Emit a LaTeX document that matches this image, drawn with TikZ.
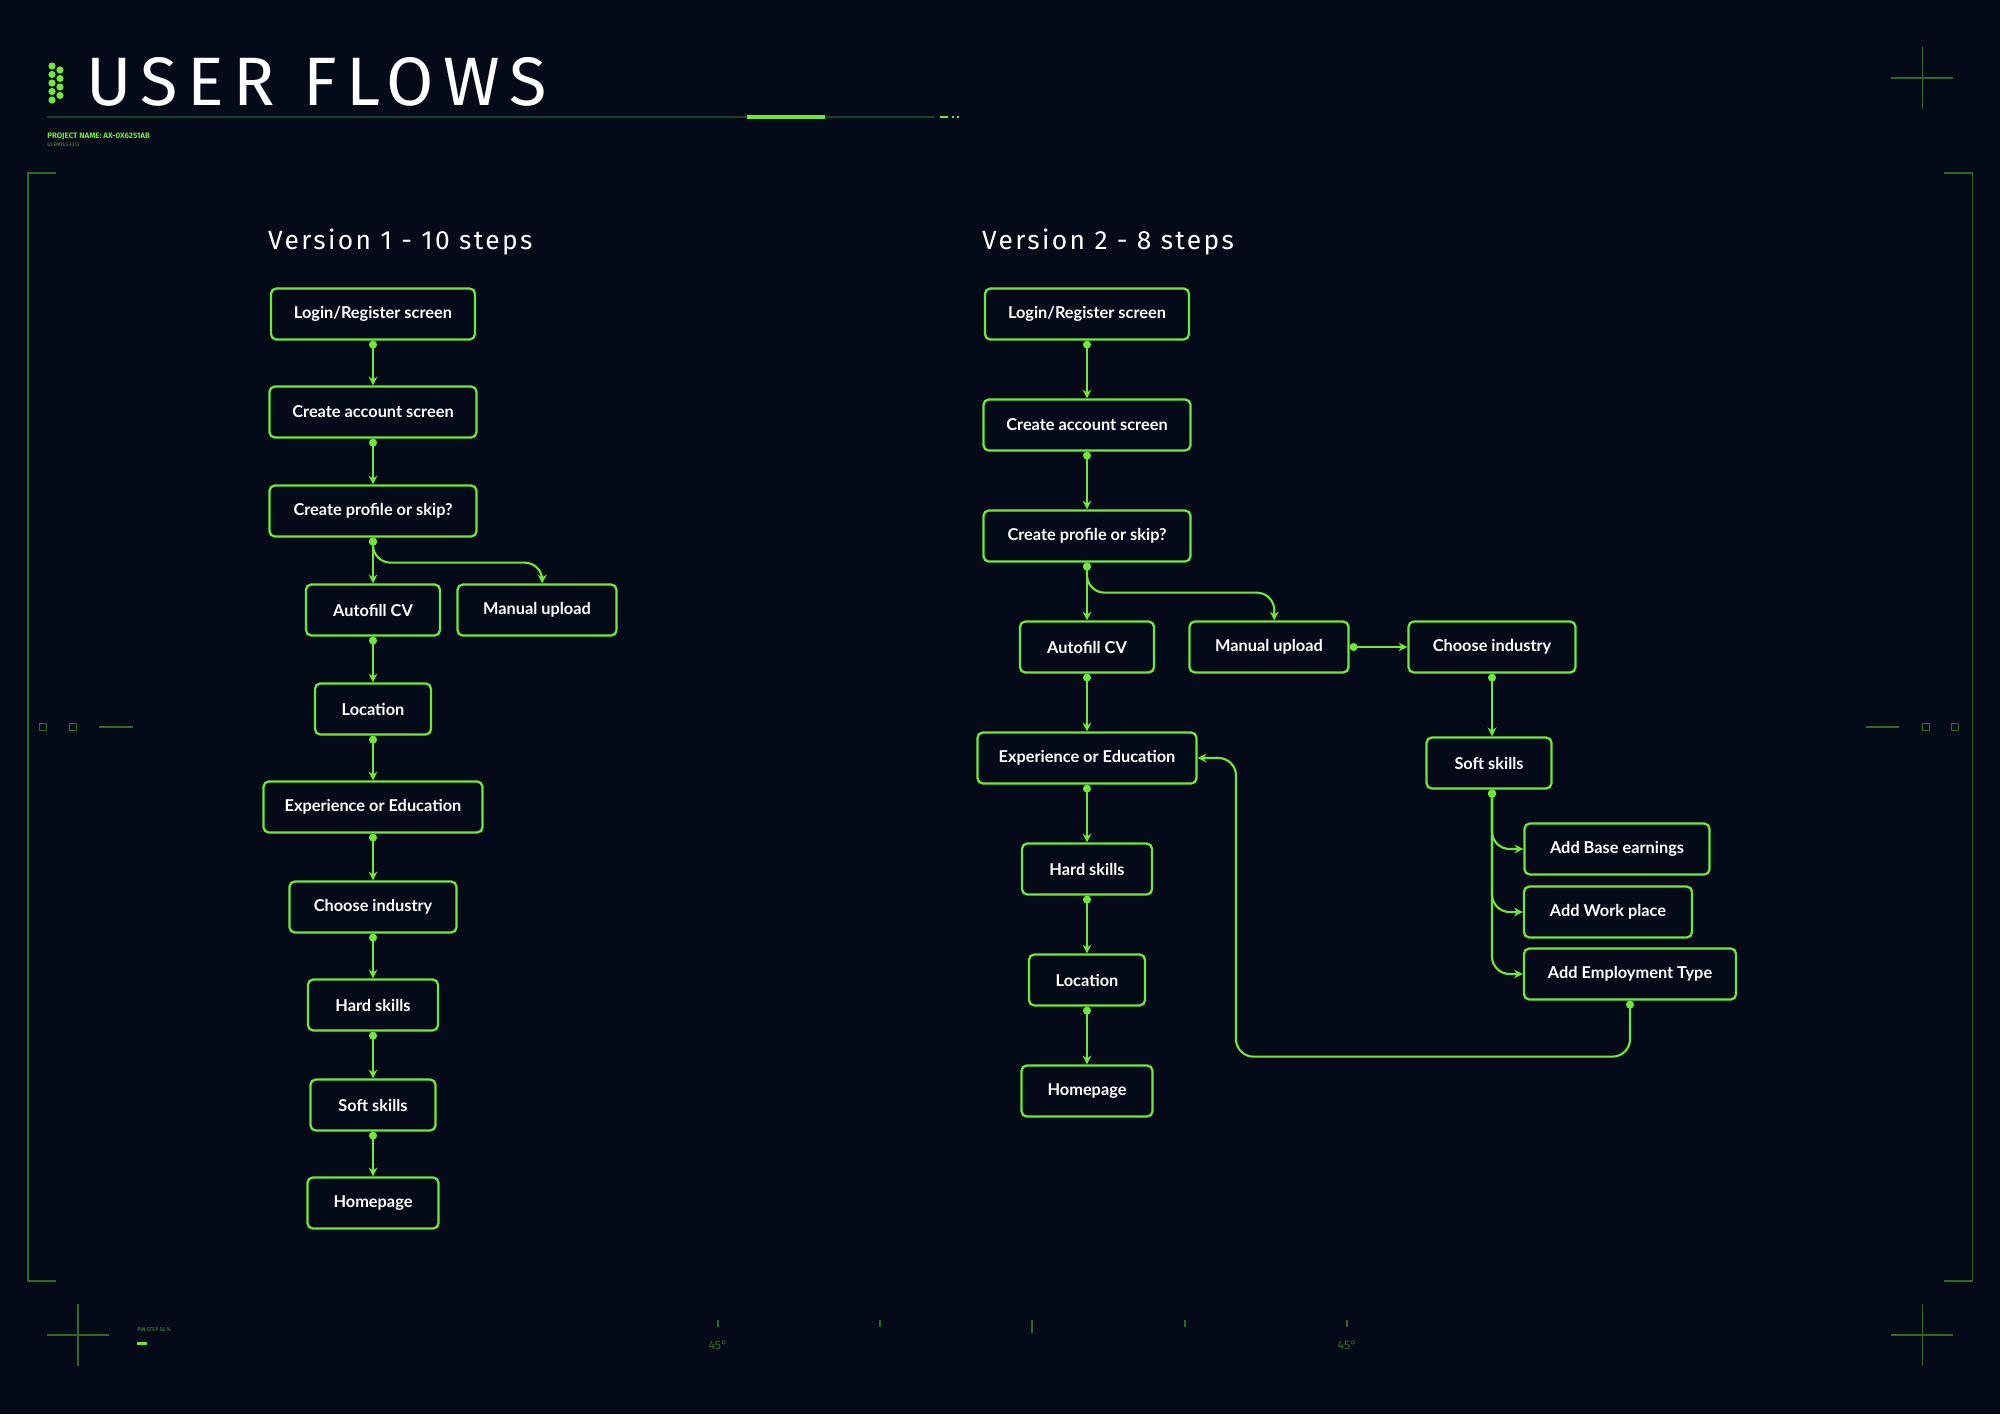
\documentclass[tikz,border=0pt]{standalone}
\usepackage{fontspec}
\setmainfont{Lato}
\newfontfamily\titlefont[LetterSpace=14]{Fira Sans}
\newfontfamily\headfont[LetterSpace=9]{Fira Sans}
\newfontfamily\tinyfont{Fira Sans}
\usetikzlibrary{arrows.meta}
\definecolor{bg}{HTML}{050A18}
\definecolor{neon}{HTML}{6FE83A}
\definecolor{dim}{HTML}{2E6A24}
\tikzset{
  step/.style={draw=neon, line width=1.3pt, rounded corners=3pt, fill=bg, text=white,
    font=\fontsize{9.3}{11}\selectfont\bfseries, minimum height=51*0.02cm, minimum width=#1*0.02cm, inner sep=0pt},
  flow/.style={neon, line width=1.2pt, rounded corners=10pt, {Circle[length=4.5pt]}-{Stealth[length=5pt,width=5pt]}},
  deco/.style={dim, line width=.6pt},
}
\begin{document}
\begin{tikzpicture}[x=0.02cm, y=-0.02cm]
\fill[bg] (0,0) rectangle (2000,1414);
\useasboundingbox (0,0) rectangle (2000,1414);
% header
\foreach \j in {0,1,2,3,4} \fill[neon] (52,66+\j*8.5) circle (3.6);
\foreach \j in {0,1,2,3} \fill[neon] (60,70+\j*8.5) circle (3.6);
\node[anchor=west, text=white, font=\titlefont\fontsize{39}{40}\selectfont] (title) at (80,82) {USER FLOWS};
\draw[dim!60!bg, line width=1.2pt] (47,117) -- (935,117);
\draw[neon, line width=2.5pt] (747,117) -- (825,117);
\draw[neon, line width=1.5pt] (940,117) -- (948,117) (952,117) -- (954,117) (957,117) -- (959,117);
\node[anchor=west, text=neon, font=\tinyfont\bfseries\fontsize{4.5}{5}\selectfont, inner sep=0pt] (pname) at (47,136) {PROJECT NAME: AX-0X6251AB};
\node[anchor=west, text=neon!70!bg, font=\tinyfont\fontsize{3}{4}\selectfont, inner sep=0pt] (psub) at (47,145) {UI.EMU.5.43/2};
% frame
\draw[deco] (56,173) -- (28,173) -- (28,1281) -- (56,1281);
\draw[deco] (1944,173) -- (1972,173) -- (1972,1281) -- (1944,1281);
\foreach \cx/\cy in {1922/78, 78/1335, 1922/1335}
  \draw[deco] (\cx-31,\cy) -- (\cx+31,\cy) (\cx,\cy-31) -- (\cx,\cy+31);
\foreach \sx in {43,73,1926,1955} \draw[deco] (\sx-3.5,723.5) rectangle (\sx+3.5,730.5);
\draw[deco] (99,727) -- (133,727) (1866,727) -- (1899,727);
\foreach \tx in {718,880,1185,1347} \draw[deco] (\tx,1320) -- (\tx,1327);
\draw[deco, line width=1pt] (1032,1320) -- (1032,1333);
\node[text=dim, font=\tinyfont\fontsize{7}{8}\selectfont] (degA) at (718,1345) {45°};
\node[text=dim, font=\tinyfont\fontsize{7}{8}\selectfont] (degB) at (1347,1345) {45°};
\node[anchor=west, text=neon!70!bg, font=\tinyfont\fontsize{3}{4}\selectfont, inner sep=0pt] (pin) at (137,1330) {PIN STEP 56 \%};
\fill[neon] (137,1342) rectangle (147,1345);
% headings
\node[anchor=west, text=white, font=\headfont\fontsize{15}{18}\selectfont] (headA) at (262,242) {Version 1 - 10 steps};
\node[anchor=west, text=white, font=\headfont\fontsize{15}{18}\selectfont] (headB) at (976,242) {Version 2 - 8 steps};
% version 1
\node[step=204] (a1) at (373,314) {Login/Register screen};
\node[step=207] (a2) at (373,412) {Create account screen};
\node[step=207] (a3) at (373,511) {Create profile or skip?};
\node[step=134] (a4) at (373,610) {Autofill CV};
\node[step=159] (a4m) at (537,610) {Manual upload};
\node[step=116] (a5) at (373,709) {Location};
\node[step=219] (a6) at (373,807) {Experience or Education};
\node[step=167] (a7) at (373,907) {Choose industry};
\node[step=130] (a8) at (373,1005) {Hard skills};
\node[step=125] (a9) at (373,1105) {Soft skills};
\node[step=131] (a10) at (373,1203) {Homepage};
\foreach \i/\n in {1/2,2/3,3/4,4/5,5/6,6/7,7/8,8/9,9/10} \draw[flow] (a\i.south) -- (a\n.north);
\draw[flow] (a3.south) -- ++(0,25) -| ([xshift=3]a4m.north);
% version 2
\node[step=204] (b1) at (1087,314) {Login/Register screen};
\node[step=207] (b2) at (1087,425) {Create account screen};
\node[step=207] (b3) at (1087,536) {Create profile or skip?};
\node[step=134] (b4) at (1087,647) {Autofill CV};
\node[step=159] (b4m) at (1269,647) {Manual upload};
\node[step=167] (bci) at (1492,647) {Choose industry};
\node[step=125] (bss) at (1489,763) {Soft skills};
\node[step=185] (bbe) at (1617,849) {Add Base earnings};
\node[step=168] (bwp) at (1608,912) {Add Work place};
\node[step=212] (bet) at (1630,974) {Add Employment Type};
\node[step=219] (b5) at (1087,758) {Experience or Education};
\node[step=130] (b6) at (1087,869) {Hard skills};
\node[step=116] (b7) at (1087,980) {Location};
\node[step=131] (b8) at (1087,1091) {Homepage};
\foreach \i/\n in {1/2,2/3,3/4,4/5,5/6,6/7,7/8} \draw[flow] (b\i.south) -- (b\n.north);
\draw[flow] (b3.south) -- ++(0,30) -| ([xshift=3]b4m.north);
\draw[flow] (b4m.east) -- (bci.west);
\draw[flow] (bci.south) -- (bci.south |- bss.north);
\foreach \t in {bbe,bwp,bet}
  \draw[flow] (bci.south |- bss.south) |- (\t.west);
\draw[flow] (bet.south) -- ++(0,56) -| (1236,758) -- (b5.east);
\end{tikzpicture}
\end{document}
